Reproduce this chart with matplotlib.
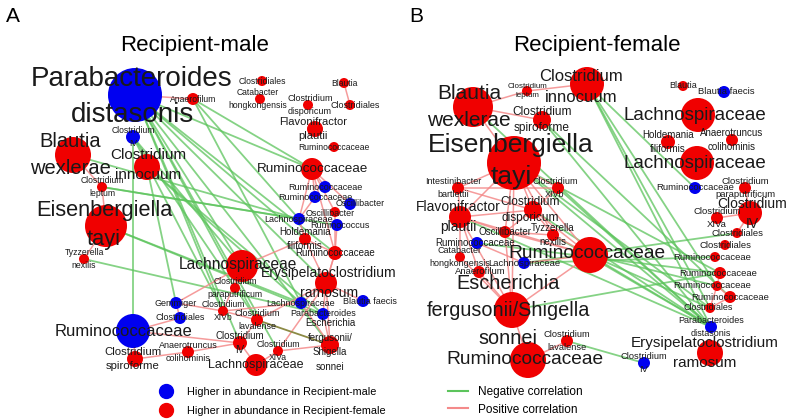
import matplotlib
matplotlib.use('Agg')
import matplotlib.pyplot as plt
from matplotlib.patches import Circle
from matplotlib.lines import Line2D

plt.rcParams['font.family'] = ['Liberation Sans', 'DejaVu Sans']

# ---------------------------------------------------------------
# Panel A : Recipient-male network (layout coords, node size, group)
# ---------------------------------------------------------------
a_ids = ['Pdis', 'CIVm', 'Bwex', 'Cinn', 'Clep', 'Etay', 'Tnex', 'Gemm', 'Cldm', 'Rumm',
         'Cspi', 'Acol', 'CXIVb', 'Clav', 'CIVf', 'Lacf2', 'CXIVa', 'Efer', 'Parm', 'Lacm2',
         'Bfae', 'Eram', 'Lacf1', 'Cpar', 'Hfil', 'Rumf2', 'Lacm1', 'Rumc', 'Oscf', 'Oscm',
         'Rumm1', 'Rumm2', 'Rumf1', 'Rumf0', 'Fpla', 'Cdis', 'Clf1', 'Chon', 'Blau', 'Clf2',
         'Anae']
a_labels = ['Parabacteroides\ndistasonis', 'Clostridium\nIV', 'Blautia\nwexlerae',
            'Clostridium\ninnocuum', 'Clostridium\nleptum', 'Eisenbergiella\ntayi',
            'Tyzzerella\nnexilis', 'Gemmiger', 'Clostridiales', 'Ruminococcaceae',
            'Clostridium\nspiroforme', 'Anaerotruncus\ncolihominis', 'Clostridium\nXIVb',
            'Clostridium\nlavalense', 'Clostridium\nIV', 'Lachnospiraceae', 'Clostridium\nXIVa',
            'Escherichia\nfergusonii/\nShigella\nsonnei', 'Parabacteroides', 'Lachnospiraceae',
            'Blautia faecis', 'Erysipelatoclostridium\nramosum', 'Lachnospiraceae',
            'Clostridium\nparaputrificum', 'Holdemania\nfiliformis', 'Ruminococcaceae',
            'Lachnospiraceae', 'Ruminococcus', 'Oscillibacter', 'Oscillibacter',
            'Ruminococcaceae', 'Ruminococcaceae', 'Ruminococcaceae', 'Ruminococcaceae',
            'Flavonifractor\nplautii', 'Clostridium\ndisporicum', 'Clostridiales',
            'Catabacter\nhongkongensis', 'Blautia', 'Clostridiales', 'Anaerofilum']
a_x = [135, 133, 73, 147, 102, 106, 84, 176, 180, 133,
       135, 188, 223, 257, 240, 256, 278, 330, 323, 301,
       363, 326, 242, 235, 305, 335, 299, 337, 335, 350,
       325, 315, 312, 334, 315, 308, 262, 260, 344, 350,
       193]
a_y = [95, 137, 155, 167, 187, 226, 259, 303, 318, 331,
       359, 352, 311, 320, 343, 365, 351, 345, 314, 303,
       301, 283, 266, 288, 239, 253, 219, 225, 212, 204,
       187, 197, 169, 147, 129, 105, 81, 99, 83, 105,
       99]
a_r = [27, 7, 18, 13, 5, 21, 5, 6, 6, 17,
       8, 6, 5, 6, 7, 11, 5, 9, 6, 6,
       6, 11, 16, 5, 6, 7, 6, 6, 5, 6,
       6, 6, 11, 5, 8, 5, 5, 5, 5, 5,
       6]
a_group = ['M', 'M', 'F', 'F', 'F', 'F', 'F', 'M', 'M', 'M',
           'F', 'F', 'F', 'F', 'F', 'F', 'F', 'F', 'M', 'M',
           'M', 'F', 'F', 'F', 'F', 'F', 'M', 'M', 'F', 'M',
           'M', 'M', 'F', 'F', 'F', 'F', 'F', 'F', 'F', 'F',
           'F']
a_fs = [20, 6.2, 14.5, 11, 6.2, 15.7, 6.2, 6.5, 6.5, 12,
        8.2, 6.5, 6.2, 6.5, 7, 9, 6.2, 7, 6.5, 6.5,
        6.5, 10, 11.2, 6.2, 7, 7, 6.5, 6.5, 6.5, 6.5,
        6.5, 6.5, 9.7, 6.2, 8, 6.5, 6.2, 6.2, 6.2, 6.5,
        6.2]
a_neg = [('Pdis', 'Rumf1'), ('Pdis', 'Hfil'), ('Pdis', 'Lacf1'), ('Pdis', 'CXIVb'),
         ('Pdis', 'Clav'), ('Pdis', 'CIVf'), ('Pdis', 'Eram'), ('Pdis', 'Rumf2'),
         ('Pdis', 'CXIVa'), ('Pdis', 'Efer'), ('Anae', 'Lacm1'), ('Anae', 'Lacm2'),
         ('Anae', 'Rumf1'), ('CIVm', 'CXIVb'), ('CIVm', 'Lacf1'), ('CIVm', 'Clav'),
         ('Cinn', 'Gemm'), ('Cinn', 'Lacm2'), ('Cinn', 'Parm'), ('Clep', 'Lacm1'),
         ('Clep', 'Rumc'), ('Etay', 'Lacm2'), ('Etay', 'Parm'), ('Tnex', 'Parm'),
         ('Rumm', 'CIVm'), ('Bwex', 'Lacm1')]
a_pos = [('Blau', 'Clf2'), ('Pdis', 'Anae'), ('Bwex', 'Clep'), ('Etay', 'Clep'),
         ('Etay', 'Tnex'), ('Rumf1', 'Rumm1'), ('Rumf1', 'Rumm2'), ('Rumf1', 'Oscm'),
         ('Rumf1', 'Oscf'), ('Rumf1', 'Rumf2'), ('Rumf1', 'Lacm1'), ('Rumm2', 'Lacm1'),
         ('Lacm1', 'Hfil'), ('Hfil', 'Lacf1'), ('Hfil', 'Rumf2'), ('Hfil', 'Eram'),
         ('Oscf', 'Rumf2'), ('Rumc', 'Rumf2'), ('Rumf2', 'Eram'), ('Eram', 'Lacm2'),
         ('Eram', 'Parm'), ('Eram', 'Efer'), ('Eram', 'CXIVa'), ('Eram', 'Clav'),
         ('Eram', 'Bfae'), ('Lacf1', 'Cpar'), ('Lacf1', 'Gemm'), ('Lacf1', 'CXIVb'),
         ('Gemm', 'Cldm'), ('Gemm', 'CXIVb'), ('CXIVb', 'Clav'), ('Clav', 'CIVf'),
         ('CIVf', 'Lacf2'), ('CIVf', 'Acol'), ('Acol', 'Cspi'), ('Cspi', 'Rumm'),
         ('Rumm', 'CIVf'), ('CXIVa', 'Lacf2'), ('CXIVa', 'Efer'), ('Parm', 'Efer'),
         ('Lacm2', 'Efer'), ('Lacm2', 'CXIVb'), ('Cldm', 'Rumm'), ('Rumf2', 'Eram')]
a_mixed = [('Clav', 'Efer')]

# ---------------------------------------------------------------
# Panel B : Recipient-female network
# ---------------------------------------------------------------
b_ids = ['Bwex', 'Clep', 'Cinn', 'Cspi', 'Etay', 'Ibar', 'CXIVb', 'Fpla', 'Cdis', 'Osc',
         'Tnex', 'Rumm1', 'Chon', 'Anae', 'Lacm', 'Rumf1', 'Efer', 'Rumf2', 'Clav', 'CIVm',
         'Eram', 'Pdis', 'Clf3', 'Blau', 'Bfae', 'Lacf1', 'Hfil', 'Acol', 'Lacf2', 'Rumm2',
         'Cpar', 'CIVf', 'CXIVa', 'Clf1', 'Clf2', 'Rum3', 'Rum4', 'Rum5', 'Rum6']
b_labels = ['Blautia\nwexlerae', 'Clostridium\nleptum', 'Clostridium\ninnocuum',
            'Clostridium\nspiroforme', 'Eisenbergiella\ntayi', 'Intestinibacter\nbartlettii',
            'Clostridium\nXIVb', 'Flavonifractor\nplautii', 'Clostridium\ndisporicum',
            'Oscillibacter', 'Tyzzerella\nnexilis', 'Ruminococcaceae',
            'Catabacter\nhongkongensis', 'Anaerofilum', 'Lachnospiraceae', 'Ruminococcaceae',
            'Escherichia\nfergusonii/Shigella\nsonnei', 'Ruminococcaceae',
            'Clostridium\nlavalense', 'Clostridium\nIV', 'Erysipelatoclostridium\nramosum',
            'Parabacteroides\ndistasonis', 'Clostridiales', 'Blautia', 'Blautia faecis',
            'Lachnospiraceae', 'Holdemania\nfiliformis', 'Anaerotruncus\ncolihominis',
            'Lachnospiraceae', 'Ruminococcaceae', 'Clostridium\nparaputrificum',
            'Clostridium\nIV', 'Clostridium\nXIVa', 'Clostridiales', 'Clostridiales',
            'Ruminococcaceae', 'Ruminococcaceae', 'Ruminococcaceae', 'Ruminococcaceae']
b_x = [473, 527, 587, 542, 514, 458, 558, 460, 533, 505,
       553, 477, 460, 479, 524, 590, 512, 528, 567, 644,
       710, 711, 710, 683, 724, 698, 668, 732, 697, 695,
       745, 750, 717, 737, 725, 715, 720, 717, 730]
b_y = [107, 91, 84, 120, 163, 188, 188, 217, 210, 232,
       235, 243, 257, 272, 263, 255, 310, 360, 341, 363,
       353, 327, 308, 86, 92, 115, 142, 140, 163, 188,
       188, 213, 218, 233, 245, 257, 273, 286, 297]
b_r = [20, 5, 17, 9, 27, 6, 6, 11, 9, 6,
       6, 6, 5, 6, 6, 18, 18, 18, 6, 6,
       13, 6, 5, 5, 6, 17, 7, 6, 17, 6,
       6, 12, 6, 5, 5, 5, 6, 5, 6]
b_group = ['F', 'F', 'F', 'F', 'F', 'F', 'F', 'F', 'F', 'F',
           'F', 'M', 'F', 'F', 'M', 'F', 'F', 'F', 'F', 'M',
           'F', 'M', 'F', 'F', 'M', 'F', 'F', 'F', 'F', 'M',
           'F', 'F', 'F', 'F', 'F', 'F', 'F', 'F', 'F']
b_fs = [15, 5.8, 12, 8.6, 19, 6.5, 6.5, 10, 8.6, 7,
        7, 7, 6.5, 6.8, 6.8, 13.8, 14.3, 13.8, 6.7, 6.7,
        11, 6.5, 6.5, 6.5, 6.8, 13.5, 7, 7, 13.5, 6.8,
        6.8, 10, 6.8, 6.8, 6.8, 6.8, 6.8, 6.8, 6.8]
b_neg = [('Cinn', 'Clf3'), ('Cinn', 'Rum5'), ('Cinn', 'Pdis'), ('Cinn', 'Rumm2'),
         ('Bwex', 'Pdis'), ('Cspi', 'Pdis'), ('Cspi', 'Rum6'), ('Etay', 'Pdis'),
         ('Etay', 'Rum4'), ('Etay', 'Clf3'), ('CXIVb', 'Pdis'), ('Cdis', 'Pdis'),
         ('Rumf1', 'Pdis'), ('Rumf1', 'Clf3'), ('Rumf1', 'Rum5'), ('Tnex', 'Pdis'),
         ('Efer', 'Rum4'), ('Clav', 'CIVm'), ('Rum3', 'Lacm'), ('Clf1', 'Lacm'),
         ('Fpla', 'Pdis'), ('Rum4', 'Rumm1')]
b_pos = [('Bwex', 'Clep'), ('Bwex', 'Cspi'), ('Bwex', 'Etay'), ('Clep', 'Cinn'),
         ('Etay', 'Ibar'), ('Etay', 'Fpla'), ('Etay', 'Cdis'), ('Etay', 'CXIVb'),
         ('Etay', 'Osc'), ('Etay', 'Tnex'), ('Etay', 'Rumf1'), ('Etay', 'Efer'),
         ('Ibar', 'Fpla'), ('Ibar', 'Cdis'), ('Ibar', 'CXIVb'), ('Fpla', 'Cdis'),
         ('Fpla', 'Osc'), ('Fpla', 'Chon'), ('Fpla', 'Anae'), ('Fpla', 'Efer'),
         ('Fpla', 'Rumf1'), ('Cdis', 'Osc'), ('Cdis', 'Tnex'), ('Cdis', 'CXIVb'),
         ('Cdis', 'Rumf1'), ('Osc', 'Tnex'), ('Osc', 'Rumf1'), ('Tnex', 'Rumf1'),
         ('Rumm1', 'Lacm'), ('Chon', 'Efer'), ('Anae', 'Efer'), ('Efer', 'Rumf1'),
         ('Efer', 'Rumf2'), ('Efer', 'Osc'), ('Rumf2', 'Clav'), ('Lacm', 'Rumf1'),
         ('Rum4', 'Rum5'), ('Rum5', 'Rum6'), ('Rum6', 'Clf3'), ('Rum5', 'Clf3'),
         ('Clf1', 'CIVf'), ('CXIVa', 'CIVf'), ('Cpar', 'CIVf')]
b_mixed = []

# label nudges (pixels) so text sits like the original layout
a_nudge = {'Rumm': (-10, 1), 'Oscm': (10, 0), 'Oscf': (-5, 1), 'Clf2': (5, 0),
           'Eram': (3, 0), 'Lacf1': (-4, -1), 'Fpla': (-2, 0), 'Bwex': (-3, 0),
           'Etay': (-2, -1), 'Cspi': (-2, 0), 'Cinn': (1, -2), 'Bfae': (7, 0),
           'Chon': (-2, 0), 'Cdis': (2, 0), 'Rumc': (3, 0), 'Pdis': (-3, 2)}
b_nudge = {'Bwex': (-4, 0), 'Cinn': (-6, 3), 'Etay': (-3, -2), 'Ibar': (-5, 0),
           'CXIVb': (-3, 0), 'Fpla': (-2, 0), 'Cdis': (-3, 0), 'Rumm1': (-2, 0),
           'Rumf1': (-3, -2), 'Efer': (-4, 1), 'Rumf2': (-3, 0), 'Eram': (-5, 0),
           'Lacf1': (-3, 0), 'Lacf2': (-2, 0), 'Bfae': (2, 0), 'CIVf': (2, 1),
           'Rum3': (-3, 0), 'Rum4': (-2, 0), 'Rum5': (-5, 0), 'Clf3': (-2, 0),
           'Anae': (1, 0)}
b_spacing = {'Etay': 1.4}

node_col = {'M': '#0000f0', 'F': '#f00000'}
neg_col = '#5cc45c'
pos_col = '#f48a8a'


def draw_network(ax, ids, labels, xs, ys, rs, groups, fss, neg, pos, mixed, nudge, spacing={}):
    pos_of = {k: (x, y) for k, x, y in zip(ids, xs, ys)}
    for a, b in neg:
        (x1, y1), (x2, y2) = pos_of[a], pos_of[b]
        ax.plot([x1, x2], [y1, y2], color=neg_col, lw=1.3, alpha=0.75, zorder=1,
                solid_capstyle='round')
    for a, b in pos:
        (x1, y1), (x2, y2) = pos_of[a], pos_of[b]
        ax.plot([x1, x2], [y1, y2], color=pos_col, lw=1.1, alpha=0.85, zorder=1.5,
                solid_capstyle='round')
    for a, b in mixed:
        (x1, y1), (x2, y2) = pos_of[a], pos_of[b]
        ax.plot([x1, x2], [y1, y2], color='#8c8a45', lw=1.3, zorder=1.6)
    for k, x, y, r, g in zip(ids, xs, ys, rs, groups):
        ax.add_patch(Circle((x, y), r, color=node_col[g], lw=0, zorder=2))
    for k, lab, x, y, fs in zip(ids, labels, xs, ys, fss):
        dx, dy = nudge.get(k, (0, 0))
        ax.text(x + dx, y + dy, lab, ha='center', va='center', fontsize=fs,
                color='#1a1a1a', linespacing=spacing.get(k, 1.55), zorder=3)


fig = plt.figure(figsize=(7.87, 4.2), dpi=100)
ax = fig.add_axes([0, 0, 1, 1])
ax.set_xlim(0, 787)
ax.set_ylim(420, 0)
ax.axis('off')

draw_network(ax, a_ids, a_labels, a_x, a_y, a_r, a_group, a_fs, a_neg, a_pos, a_mixed, a_nudge)
draw_network(ax, b_ids, b_labels, b_x, b_y, b_r, b_group, b_fs, b_neg, b_pos, b_mixed, b_nudge,
             b_spacing)

ax.text(13, 16, 'A', fontsize=15, ha='center', va='center')
ax.text(416, 16, 'B', fontsize=15, ha='center', va='center')
ax.text(195, 45, 'Recipient-male', fontsize=16, ha='center', va='center')
ax.text(597, 45, 'Recipient-female', fontsize=16, ha='center', va='center')

grp_handles = [Line2D([], [], marker='o', ls='none', color=node_col['M'], markersize=10),
               Line2D([], [], marker='o', ls='none', color=node_col['F'], markersize=10)]
leg1 = ax.legend(grp_handles, ['Higher in abundance in Recipient-male',
                               'Higher in abundance in Recipient-female'],
                 loc='upper left', bbox_to_anchor=(161 / 787, 1 - 387 / 420),
                 frameon=False, fontsize=7.8, handlelength=1.0, handletextpad=1.4,
                 borderpad=0, borderaxespad=0, labelspacing=0.8)
ax.add_artist(leg1)
edge_handles = [Line2D([], [], color=neg_col, lw=1.5), Line2D([], [], color=pos_col, lw=1.5)]
ax.legend(edge_handles, ['Negative correlation', 'Positive correlation'],
          loc='upper left', bbox_to_anchor=(448 / 787, 1 - 386 / 420),
          frameon=False, fontsize=8.5, handlelength=1.7, handletextpad=0.8,
          borderpad=0, borderaxespad=0, labelspacing=0.47)

fig.savefig('out.png', dpi=100)
